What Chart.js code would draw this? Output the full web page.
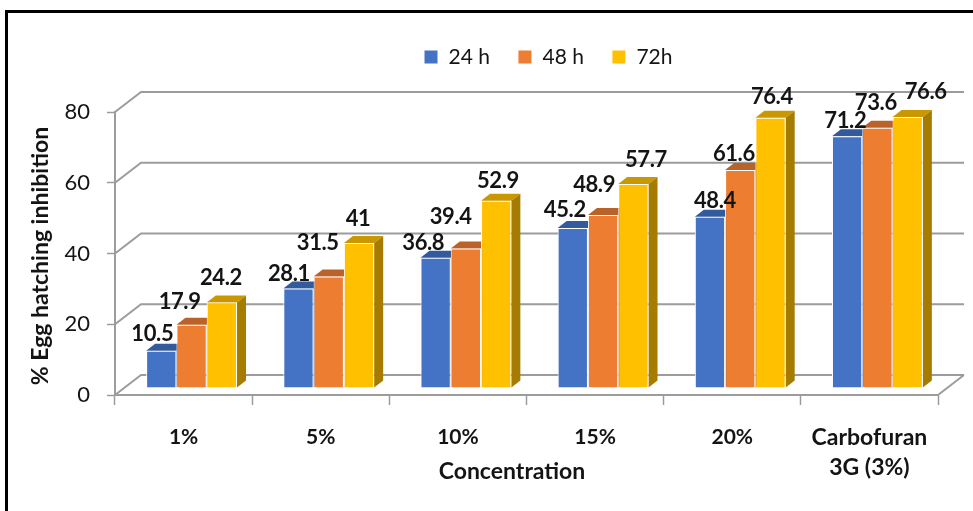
<!DOCTYPE html>
<html>
<head>
<meta charset="utf-8">
<title>Egg hatching inhibition</title>
<script src="https://cdn.jsdelivr.net/npm/chart.js@4"></script>
<style>
    html, body { margin: 0; padding: 0; background: #fff; overflow: hidden; }
    #wrap { position: relative; width: 973px; height: 511px; }
    #frame {
        position: absolute; left: 5px; top: 10px; right: 0; bottom: 0;
        border-left: 3px solid #000; border-top: 3px solid #000;
        pointer-events: none;
    }
</style>
</head>
<body>
<div id="wrap">
    <canvas id="myChart" width="973" height="511"></canvas>
    <div id="frame"></div>
</div>
<script>
const categories = ['1%', '5%', '10%', '15%', '20%', ['Carbofuran', '3G (3%)']];
const seriesNames = ['24 h', '48 h', '72h'];
const hours24 = [10.5, 28.1, 36.8, 45.2, 48.4, 71.2];
const hours48 = [17.9, 31.5, 39.4, 48.9, 61.6, 73.6];
const hours72 = [24.2, 41, 52.9, 57.7, 76.4, 76.6];
const yMax = 80;
const yStep = 20;

const frontColours = ['#4472C4', '#ED7D31', '#FFC000'];
const topColours = ['#335A9C', '#B9632A', '#C99700'];
const sideColours = ['#2F5597', '#A9551F', '#A67C00'];
const gridColour = '#9c9c9c';
const inkColour = '#141414';
const fontFamily = 'Lato, Carlito, sans-serif';

// depth of the plot box, and of one bar inside it
const boxDepth = { x: 26, y: 20 };
const barShift = { x: 8, y: 7 };
const barDepth = { x: 9, y: 7 };

// hand placed value labels, relative to the top centre of their bar
const labelNudge = [
    [[-9, -17], [-9.5, -15], [-12.4, -14.7], [-8, -18.5], [5, -15.4], [-1.8, -14.8]],
    [[-12, -23], [-11, -34], [-15.3, -32], [-9, -30], [-6.4, -16.3], [-1.6, -24.3]],
    [[-1, -24], [-1, -24.5], [1.7, -20], [12.5, -24], [1.3, -20.6], [18, -25.6]],
];

function poly(ctx, colour, pts) {
    ctx.fillStyle = colour;
    ctx.beginPath();
    pts.forEach((p, i) => (i ? ctx.lineTo(p[0], p[1]) : ctx.moveTo(p[0], p[1])));
    ctx.closePath();
    ctx.fill();
}

const box3d = {
    id: 'box3d',
    // legend sits off centre, above the bars
    afterLayout(chart) {
        const legend = chart.legend;
        const w = legend.right - legend.left;
        legend.left = 424 - legend.options.labels.padding;
        legend.right = legend.left + w;
        legend.top = 57 - 10.5 - legend.options.labels.padding;
    },
    beforeDatasetsDraw(chart) {
        const { ctx, chartArea: area, scales: { y } } = chart;
        ctx.save();
        ctx.strokeStyle = gridColour;
        ctx.lineWidth = 2;
        ctx.beginPath();
        y.ticks.forEach((t) => {
            const py = y.getPixelForValue(t.value);
            ctx.moveTo(area.left, py);
            ctx.lineTo(area.left + boxDepth.x, py - boxDepth.y);
            ctx.lineTo(area.right + boxDepth.x, py - boxDepth.y);
        });
        ctx.moveTo(area.right, area.bottom);
        ctx.lineTo(area.right + boxDepth.x, area.bottom - boxDepth.y);
        ctx.stroke();
        ctx.restore();

        // top and side faces go under the bar fronts
        chart.getSortedVisibleDatasetMetas().forEach((meta, s) => {
            meta.data.forEach((bar) => {
                const x0 = bar.x - bar.width / 2 + barShift.x;
                const x1 = bar.x + bar.width / 2 + barShift.x;
                const yt = bar.y - barShift.y;
                const yb = bar.base - barShift.y;
                poly(ctx, topColours[s], [[x0, yt], [x1, yt], [x1 + barDepth.x, yt - barDepth.y], [x0 + barDepth.x, yt - barDepth.y]]);
                poly(ctx, sideColours[s], [[x1, yt], [x1 + barDepth.x, yt - barDepth.y], [x1 + barDepth.x, yb - barDepth.y], [x1, yb]]);
            });
        });

        ctx.save();
        ctx.translate(barShift.x, -barShift.y);
    },
    afterDatasetsDraw(chart) {
        const { ctx } = chart;
        ctx.restore();

        ctx.save();
        ctx.fillStyle = inkColour;
        ctx.font = 'bold 22px ' + fontFamily;
        ctx.letterSpacing = '-0.4px';
        ctx.textAlign = 'center';
        ctx.textBaseline = 'middle';
        chart.getSortedVisibleDatasetMetas().forEach((meta, s) => {
            const values = chart.data.datasets[s].data;
            meta.data.forEach((bar, i) => {
                const [dx, dy] = labelNudge[s][i];
                ctx.fillText(String(values[i]), bar.x + barShift.x + dx, bar.y - barShift.y + dy);
            });
        });
        ctx.restore();
    },
    afterDraw(chart) {
        const { ctx } = chart;
        ctx.save();
        ctx.fillStyle = inkColour;
        ctx.font = 'bold 23px ' + fontFamily;
        ctx.textAlign = 'center';
        ctx.textBaseline = 'middle';
        ctx.fillText('Concentration', 512, 472);
        ctx.translate(41, 256);
        ctx.rotate(-Math.PI / 2);
        ctx.fillText('% Egg hatching inhibition', 0, 0);
        ctx.restore();
    },
};

new Chart(document.getElementById('myChart'), {
    type: 'bar',
    data: {
        labels: categories,
        datasets: [hours24, hours48, hours72].map((values, s) => ({
            label: seriesNames[s],
            data: values,
            backgroundColor: frontColours[s],
            borderColor: '#fff',
            borderWidth: 1,
            categoryPercentage: 0.6625,
            barPercentage: 1,
        })),
    },
    options: {
        responsive: false,
        animation: false,
        layout: { padding: { top: 53, right: 35 } },
        plugins: {
            tooltip: { enabled: false },
            legend: {
                position: 'top',
                align: 'start',
                labels: {
                    boxWidth: 14,
                    boxHeight: 14,
                    padding: 28,
                    color: inkColour,
                    font: { family: fontFamily, size: 21 },
                },
            },
        },
        scales: {
            x: {
                afterFit(scale) { scale.height = 116; },
                grid: { drawOnChartArea: false, color: gridColour, tickLength: 10, tickWidth: 1.5 },
                border: { color: gridColour, width: 2 },
                ticks: {
                    color: inkColour,
                    padding: 17,
                    maxRotation: 0,
                    // the two-line label carries more letters and needs the larger size
                    font: (c) => ({
                        family: fontFamily,
                        weight: 'bold',
                        size: Array.isArray(categories[c.index]) ? 23 : 21,
                        lineHeight: Array.isArray(categories[c.index]) ? 1.33 : 1.46,
                    }),
                },
            },
            y: {
                min: 0,
                max: yMax,
                afterFit(scale) { scale.width = 115; },
                grid: { drawOnChartArea: false, color: gridColour, tickLength: 8, tickWidth: 1.5 },
                border: { color: gridColour, width: 2 },
                ticks: {
                    stepSize: yStep,
                    color: inkColour,
                    padding: 17,
                    font: { family: fontFamily, size: 22 },
                },
            },
        },
    },
    plugins: [box3d],
});
</script>
</body>
</html>
